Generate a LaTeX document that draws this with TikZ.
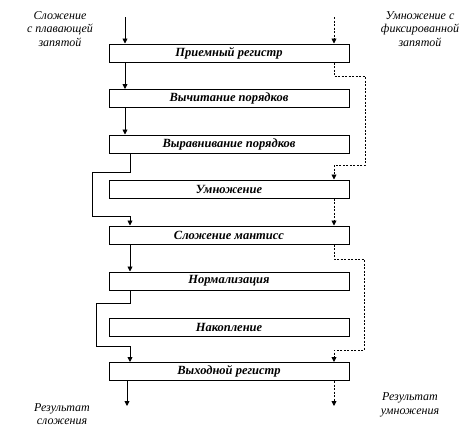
\documentclass[tikz,border=0pt]{standalone}
\usepackage{fontspec}
\setmainfont{Liberation Serif}
\usetikzlibrary{arrows.meta}
\begin{document}
\begin{tikzpicture}[x=1pt,y=-1pt,
  box/.style={draw,line width=1pt,minimum width=240pt,minimum height=18pt,inner sep=0pt,
    font=\fontsize{12.5}{14}\selectfont\bfseries\itshape},
  lbl/.style={align=center,font=\fontsize{12}{13.5}\selectfont\itshape},
  tip/.style={-{Triangle[length=5pt,width=5pt]}},
  arr/.style={line width=0.9pt,tip},
  dsh/.style={line width=0.9pt,dash pattern=on 2pt off 1.5pt,tip}]
\useasboundingbox (0,0) rectangle (475,445);
\node[box] (b1) at (229,53) {Приемный регистр};
\node[box] (b2) at (229,98.5) {Вычитание порядков};
\node[box] (b3) at (229,144) {Выравнивание порядков};
\node[box] (b4) at (229,189) {Умножение};
\node[box] (b5) at (229,235) {Сложение мантисс};
\node[box] (b6) at (229,281) {Нормализация};
\node[box] (b7) at (229,327) {Накопление};
\node[box] (b8) at (229,371.5) {Выходной регистр};
% labels
\node[lbl] (tl) at (60,29) {Сложение\\с плавающей\\запятой};
\node[lbl] (tr) at (420,29) {Умножение с\\фиксированной\\запятой};
\node[lbl] (bl) at (62,414) {Результат\\сложения};
\node[lbl] (br) at (410,405) {Результат\\умножения};
% x positions
\coordinate (xa) at (125,0);
\coordinate (xb) at (130,0);
\coordinate (xr) at (334,0);
\coordinate (inL) at (125,17);
\coordinate (inR) at (334,17);
\coordinate (outL) at (127,406);
\coordinate (outR) at (334,406);
% left solid path
\draw[arr] (inL) -- (inL |- b1.north);
\draw[arr] (xa |- b1.south) -- (xa |- b2.north);
\draw[arr] (xa |- b2.south) -- (xa |- b3.north);
\draw[arr] (xb |- b3.south) -- (130,172) -- (92,172) -- (92,216) -- (130,216) -- (xb |- b5.north);
\draw[arr] (xb |- b5.south) -- (xb |- b6.north);
\draw[arr] (xb |- b6.south) -- (130,303) -- (96,303) -- (96,346) -- (130,346) -- (xb |- b8.north);
\draw[arr] (outL |- b8.south) -- (outL);
% right dashed path
\draw[dsh] (inR) -- (inR |- b1.north);
\draw[dsh] (xr |- b1.south) -- (334,76) -- (365,76) -- (365,165) -- (334,165) -- (xr |- b4.north);
\draw[dsh] (xr |- b4.south) -- (xr |- b5.north);
\draw[dsh] (xr |- b5.south) -- (334,259) -- (364,259) -- (364,350) -- (334,350) -- (xr |- b8.north);
\draw[dsh] (xr |- b8.south) -- (outR);
\end{tikzpicture}
\end{document}
